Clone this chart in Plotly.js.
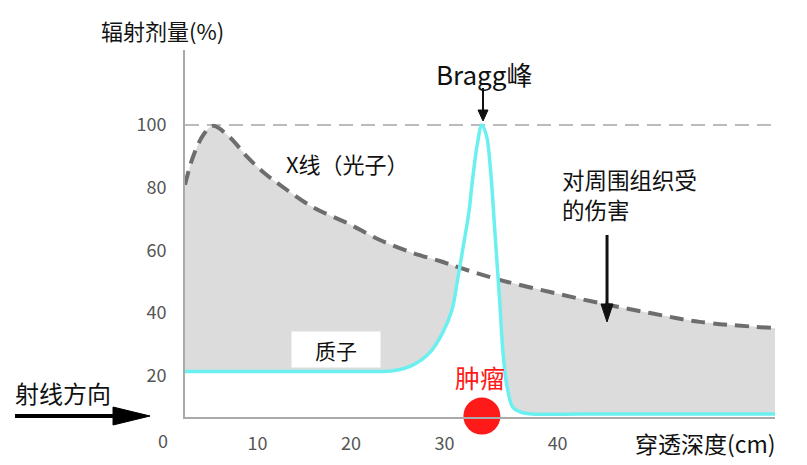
<!DOCTYPE html>
<html>
<head>
<meta charset="utf-8">
<script src="https://cdn.plot.ly/plotly-3.0.1.min.js"></script>
<style>html,body{margin:0;padding:0;background:#fff;}#chart{width:807px;height:465px;}</style>
</head>
<body>
<div id="chart"></div>
<script>
// X-ray (photon) depth-dose curve
const xrayDepth = [2.25, 3.1, 4.2, 5.2, 7.0, 8.9, 10.6, 12.4, 15.9, 19.6, 23.1, 26.6, 29.5, 31.7, 35.9, 41.3, 46.6, 52.0, 57.3, 65.35];
const xrayDose  = [80.9, 89.8, 96.8, 99.7, 96.2, 89.8, 85.0, 80.9, 73.8, 68.7, 63.3, 59.2, 56.6, 54.4, 50.6, 46.7, 43.2, 40.0, 37.2, 35.2];

// Proton depth-dose curve (Bragg peak)
const protonDepth = [2.25, 10, 18, 22.5, 24.5, 26.6, 28.4, 29.8, 30.8, 31.4, 32.0, 32.6, 33.0, 33.5, 34.0, 34.5, 34.9, 35.4, 35.9, 36.3, 36.7, 37.3, 38.1, 39.0, 45, 55, 65.35];
const protonDose  = [21.4, 21.4, 21.4, 21.4, 21.6, 23.4, 27.3, 33.7, 41.0, 50.6, 61.1, 71.9, 82.5, 93.6, 100, 96.5, 86.6, 65.6, 44.0, 26.0, 16.4, 10.0, 8.5, 7.9, 7.8, 7.8, 7.8];

// Tumour location (depth, cm)
const tumourDepth = [34.0];

// Axis ticks
const xTickVals = [10, 20, 30, 42.1];
const xTickText = ['10', '20', '30', '40'];
const yTickVals = [20, 40, 60, 80, 100];
const yTickText = ['20', '40', '60', '80', '100'];

const FONT = '"Noto Sans CJK SC", "Noto Sans", sans-serif';
const yMin = 6.86, yMax = 123.9;

const traces = [
  {x: xrayDepth, y: xrayDose, mode: 'lines', line: {width: 0, shape: 'spline'},
   fill: 'tozeroy', fillcolor: '#dcdcdc', hoverinfo: 'skip', showlegend: false},
  {x: protonDepth, y: protonDose, mode: 'lines', line: {width: 0, shape: 'spline'},
   fill: 'tozeroy', fillcolor: '#ffffff', hoverinfo: 'skip', showlegend: false},
  {x: xrayDepth, y: xrayDose, mode: 'lines',
   line: {color: '#6d6d6d', width: 4, dash: '14px,8px', shape: 'spline'}, showlegend: false},
  {x: protonDepth, y: protonDose, mode: 'lines',
   line: {color: '#6cefef', width: 3.5, shape: 'spline'}, showlegend: false},
  {x: tumourDepth, y: [yMin + 0.3], mode: 'markers', cliponaxis: false,
   marker: {size: 37, color: '#ff1a1a'}, showlegend: false}
];

const layout = {
  width: 807, height: 465,
  margin: {l: 185, r: 32, t: 50, b: 48},
  paper_bgcolor: '#fff', plot_bgcolor: '#fff',
  font: {family: FONT, color: '#111'},
  showlegend: false,
  xaxis: {
    range: [2.25, 65.35], showgrid: false, zeroline: false,
    showline: true, linecolor: '#aaaaaa', linewidth: 2,
    tickvals: xTickVals, ticktext: xTickText, ticks: '',
    ticklabelstandoff: 9,
    tickfont: {family: FONT, size: 18, color: '#555'}
  },
  yaxis: {
    range: [yMin, yMax], showgrid: false, zeroline: false,
    showline: true, linecolor: '#aaaaaa', linewidth: 2,
    tickvals: yTickVals, ticktext: yTickText, ticks: '',
    ticklabelstandoff: 13,
    tickfont: {family: FONT, size: 18, color: '#555'}
  },
  shapes: [
    {type: 'line', xref: 'paper', yref: 'y', x0: 0, x1: 1, y0: 100, y1: 100,
     line: {color: '#bbbbbb', width: 2, dash: '14px,8px'}, layer: 'below'},
    // beam direction arrow
    {type: 'line', xref: 'paper', yref: 'paper', x0: -0.2881, x1: -0.1136, y0: 0.0027, y1: 0.0027,
     line: {color: '#000', width: 4}},
    {type: 'path', xref: 'paper', yref: 'paper',
     path: 'M -0.122 0.0272 L -0.0593 0.0027 L -0.122 -0.0218 Z',
     fillcolor: '#000', line: {color: '#000', width: 1}},
    // Bragg peak arrow
    {type: 'line', xref: 'paper', yref: 'paper', x0: 0.5051, x1: 0.5051, y0: 0.8965, y1: 0.8311,
     line: {color: '#111', width: 2}},
    {type: 'path', xref: 'paper', yref: 'paper',
     path: 'M 0.4966 0.8365 L 0.5136 0.8365 L 0.5051 0.8065 Z',
     fillcolor: '#111', line: {color: '#111', width: 1}},
    // damage arrow
    {type: 'line', xref: 'paper', yref: 'paper', x0: 0.7153, x1: 0.7153, y0: 0.4959, y1: 0.297,
     line: {color: '#111', width: 3}},
    {type: 'path', xref: 'paper', yref: 'paper',
     path: 'M 0.7051 0.3079 L 0.7254 0.3079 L 0.7153 0.2589 Z',
     fillcolor: '#111', line: {color: '#111', width: 1}}
  ],
  annotations: [
    {xref: 'paper', yref: 'paper', x: -0.0381, y: 1.0545, text: '辐射剂量(%)', showarrow: false,
     font: {size: 22, color: '#111'}, xanchor: 'center', yanchor: 'middle'},
    {xref: 'paper', yref: 'paper', x: 0.5068, y: 0.9373, text: 'Bragg峰', showarrow: false,
     font: {size: 26, color: '#111'}, xanchor: 'center', yanchor: 'middle'},
    {xref: 'paper', yref: 'paper', x: 0.2746, y: 0.6921, text: 'X线（光子）', showarrow: false,
     font: {size: 22, color: '#111'}, xanchor: 'center', yanchor: 'middle'},
    {xref: 'paper', yref: 'paper', x: 0.636, y: 0.6485, text: '对周围组织受', showarrow: false,
     font: {size: 22.5, color: '#111'}, xanchor: 'left', yanchor: 'middle'},
    {xref: 'paper', yref: 'paper', x: 0.636, y: 0.5668, text: '的伤害', showarrow: false,
     font: {size: 22.5, color: '#111'}, xanchor: 'left', yanchor: 'middle'},
    {xref: 'paper', yref: 'paper', x: 0.2559, y: 0.1839, text: '质子', showarrow: false,
     font: {size: 21, color: '#111'}, bgcolor: '#ffffff', width: 86, height: 33, borderpad: 1,
     xanchor: 'center', yanchor: 'middle'},
    {xref: 'paper', yref: 'paper', x: 0.5, y: 0.109, text: '肿瘤', showarrow: false,
     font: {size: 25, color: '#ff1a1a'}, xanchor: 'center', yanchor: 'middle'},
    {xref: 'paper', yref: 'paper', x: -0.2076, y: 0.0654, text: '射线方向', showarrow: false,
     font: {size: 24, color: '#111'}, xanchor: 'center', yanchor: 'middle'},
    {xref: 'paper', yref: 'paper', x: -0.0373, y: -0.0627, text: '0', showarrow: false,
     font: {size: 18, color: '#555'}, xanchor: 'center', yanchor: 'middle'},
    {xref: 'paper', yref: 'paper', x: 0.883, y: -0.0708, text: '穿透深度(cm)', showarrow: false,
     font: {size: 23, color: '#111'}, xanchor: 'center', yanchor: 'middle'}
  ]
};

Plotly.newPlot('chart', traces, layout, {displayModeBar: false, staticPlot: true});
</script>
</body>
</html>
